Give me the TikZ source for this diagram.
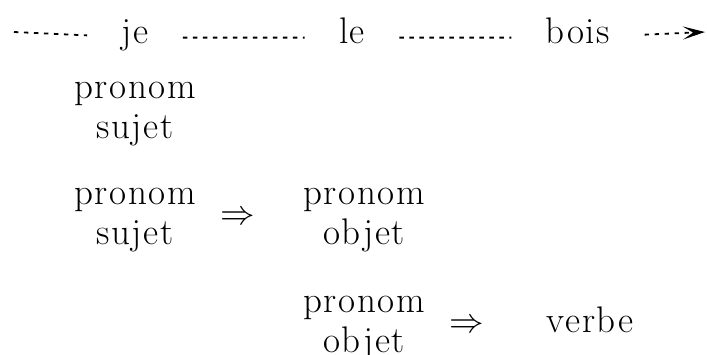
\documentclass[tikz,border=0pt]{standalone}
\usepackage{fontspec}
\setmainfont{Latin Modern Roman}[LetterSpace=4.5]
\usetikzlibrary{arrows.meta}
\tikzset{
  >={Stealth[length=11pt,width=6.5pt,inset=5pt]},
  word/.style={inner xsep=17pt,inner ysep=0pt,text height=1.5ex,text depth=.25ex,anchor=base},
  cat/.style={align=center,inner sep=0pt,anchor=base},
  imp/.style={inner sep=0pt,anchor=base},
  dotline/.style={line width=0.9pt,dash pattern=on 2.2pt off 2.8pt},
}

\begin{document}
\begin{tikzpicture}[x=0.5pt,y=-0.5pt,
    every node/.style={font=\fontsize{18.5}{20}\selectfont}]
  \useasboundingbox (0,0) rectangle (707,354);
  % top line
  \coordinate (start) at (14,32);
  \coordinate (end) at (705,32);
  \node[word] (je) at (135,43) {je};
  \node[word] (le) at (352,43) {le};
  \node[word] (bois) at (578,43) {bois};
  \draw[dotline] (start) -- (je) -- (le) -- (bois);
  \draw[dotline,->] (bois) -- (end);
  % rules (base = last line)
  \node[cat] (suj1) at (135,138) {pronom\\sujet};
  \node[cat] (suj2) at (135,244) {pronom\\sujet};
  \node[imp] (imp1) at (238,224) {$\Rightarrow$};
  \node[cat] (obj1) at (364,244) {pronom\\objet};
  \node[cat] (obj2) at (364,352) {pronom\\objet};
  \node[imp] (imp2) at (467,332) {$\Rightarrow$};
  \node[imp] (verbe) at (590,332) {verbe};
\end{tikzpicture}
\end{document}
